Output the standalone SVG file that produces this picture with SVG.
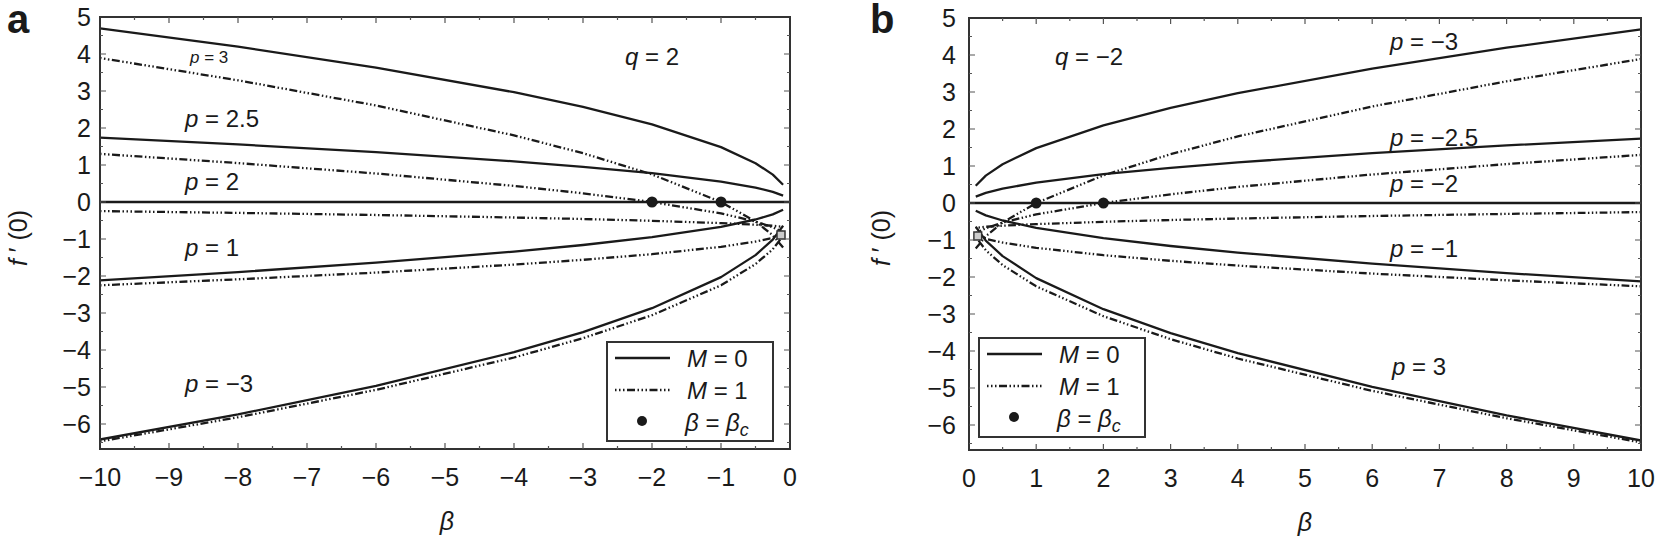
<svg xmlns="http://www.w3.org/2000/svg" xmlns:xlink="http://www.w3.org/1999/xlink" width="1657" height="542" viewBox="0 0 1657 542">
<style>
text{font-family:"Liberation Sans",Arial,sans-serif;fill:#1a1a1a}
.t{font-size:25px}
.it{font-style:italic}
.lab{font-size:24px}
.fr{fill:none;stroke:#333;stroke-width:2}
.tk{fill:none;stroke:#555;stroke-width:1.2}
.s{fill:none;stroke:#1a1a1a;stroke-width:2.3;stroke-linejoin:round}
.d{fill:none;stroke:#1a1a1a;stroke-width:2.3;stroke-dasharray:1.5 2.5 1.5 2.5 1.5 2.5 8 2.5}
</style>
<defs>
<g id="curves">
<polyline class="s" points="100,28.4 238,46.7 376,67.6 514,92.2 583,106.9 652,124.4 721,147.1 755.5,163.2 772.8,174.6 783.1,184.7"/>
<polyline class="s" points="100,137.7 238,144.4 376,152.2 514,161.3 583,166.8 652,173.2 721,181.7 755.5,187.6 772.8,191.8 783.1,195.6"/>
<line class="s" x1="100" y1="202" x2="790" y2="202"/>
<polyline class="s" points="100,280.4 238,272.1 376,262.7 514,251.6 583,245 652,237.1 721,226.8 755.5,219.5 772.8,214.4 783.1,209.8"/>
<polyline class="s" points="100,439.5 238,414.4 376,385.9 514,352.2 583,332.1 652,308.2 721,277.1 755.5,255.1 772.8,239.6 783.1,225.7"/>
<polyline class="d" points="100,58 238,80.3 376,105.5 514,135.4 583,153.2 652,174.4 721,202 755.5,221.5 772.8,235.3 783.1,247.6"/>
<polyline class="d" points="100,153.9 238,163.1 376,173.5 514,185.9 583,193.3 652,202 721,213.4 755.5,221.5 772.8,227.2 783.1,232.2"/>
<polyline class="d" points="100,211.1 238,212.9 376,215 514,217.5 583,219 652,220.8 721,223.1 755.5,224.7 772.8,225.8 783.1,226.8"/>
<polyline class="d" points="100,285.3 238,279.3 376,272.6 514,264.6 583,259.8 652,254.2 721,246.8 755.5,241.6 772.8,237.9 783.1,234.6"/>
<polyline class="d" points="100,441.4 238,417.3 376,389.9 514,357.5 583,338.2 652,315.2 721,285.3 755.5,264.1 772.8,249.2 783.1,235.9"/>
<rect x="777" y="231" width="8" height="8" fill="#ccc" stroke="#333" stroke-width="1.5"/>
<circle cx="652" cy="202" r="5.5" fill="#1a1a1a"/>
<circle cx="721" cy="202" r="5.5" fill="#1a1a1a"/>
</g>
<g id="legend">
<rect x="607" y="342" width="166" height="99" fill="#fff" stroke="#333" stroke-width="2"/>
<line class="s" x1="615" y1="358" x2="670" y2="358"/>
<text class="lab" x="687" y="367"><tspan class="it">M</tspan> = 0</text>
<line class="d" x1="615" y1="390" x2="670" y2="390"/>
<text class="lab" x="687" y="399"><tspan class="it">M</tspan> = 1</text>
<circle cx="642" cy="421" r="5" fill="#1a1a1a"/>
<text class="lab" x="685" y="431"><tspan class="it">β</tspan> = <tspan class="it">β</tspan><tspan class="it" font-size="18" dy="5">c</tspan></text>
</g>
</defs>

<g id="panel-a">
<text x="7" y="33" font-size="40" font-weight="bold">a</text>
<use xlink:href="#curves"/>
<rect class="fr" x="100" y="17" width="690" height="432"/>
<path class="tk" d="M169,449v-6M238,449v-6M307,449v-6M376,449v-6M445,449v-6M514,449v-6M583,449v-6M652,449v-6M721,449v-6M169,17v6M238,17v6M307,17v6M376,17v6M445,17v6M514,17v6M583,17v6M652,17v6M721,17v6M134.5,449v-3M203.5,449v-3M272.5,449v-3M341.5,449v-3M410.5,449v-3M479.5,449v-3M548.5,449v-3M617.5,449v-3M686.5,449v-3M755.5,449v-3M134.5,17v3M203.5,17v3M272.5,17v3M341.5,17v3M410.5,17v3M479.5,17v3M548.5,17v3M617.5,17v3M686.5,17v3M755.5,17v3M100,54h6M100,91h6M100,128h6M100,165h6M100,202h6M100,239h6M100,276h6M100,313h6M100,350h6M100,387h6M100,424h6M790,54h-6M790,91h-6M790,128h-6M790,165h-6M790,202h-6M790,239h-6M790,276h-6M790,313h-6M790,350h-6M790,387h-6M790,424h-6M100,35.5h3M100,72.5h3M100,109.5h3M100,146.5h3M100,183.5h3M100,220.5h3M100,257.5h3M100,294.5h3M100,331.5h3M100,368.5h3M100,405.5h3M100,442.5h3M790,35.5h-3M790,72.5h-3M790,109.5h-3M790,146.5h-3M790,183.5h-3M790,220.5h-3M790,257.5h-3M790,294.5h-3M790,331.5h-3M790,368.5h-3M790,405.5h-3M790,442.5h-3"/>
<g class="t" text-anchor="end">
<text x="91" y="26">5</text><text x="91" y="63">4</text><text x="91" y="100">3</text><text x="91" y="137">2</text><text x="91" y="174">1</text><text x="91" y="211">0</text><text x="91" y="248">−1</text><text x="91" y="285">−2</text><text x="91" y="322">−3</text><text x="91" y="359">−4</text><text x="91" y="396">−5</text><text x="91" y="433">−6</text>
</g>
<g class="t" text-anchor="middle">
<text x="100" y="486">−10</text><text x="169" y="486">−9</text><text x="238" y="486">−8</text><text x="307" y="486">−7</text><text x="376" y="486">−6</text><text x="445" y="486">−5</text><text x="514" y="486">−4</text><text x="583" y="486">−3</text><text x="652" y="486">−2</text><text x="721" y="486">−1</text><text x="790" y="486">0</text>
</g>
<text class="t it" x="447" y="530" text-anchor="middle">β</text>
<text class="t" transform="translate(27,238) rotate(-90)" text-anchor="middle"><tspan class="it">f</tspan> ′ (0)</text>
<text class="it" font-size="17" x="190" y="63">p<tspan font-style="normal"> = 3</tspan></text>
<text class="lab" x="185" y="127"><tspan class="it">p</tspan> = 2.5</text>
<text class="lab" x="185" y="190"><tspan class="it">p</tspan> = 2</text>
<text class="lab" x="185" y="256"><tspan class="it">p</tspan> = 1</text>
<text class="lab" x="185" y="392"><tspan class="it">p</tspan> = −3</text>
<text class="lab" x="625" y="65"><tspan class="it">q</tspan> = 2</text>
<use xlink:href="#legend"/>
</g>

<g id="panel-b">
<text x="870" y="33" font-size="40" font-weight="bold">b</text>
<use xlink:href="#curves" transform="matrix(-0.9739 0 0 1 1738.4 1)"/>
<rect class="fr" x="969" y="18" width="672" height="432"/>
<path class="tk" d="M1036.2,450v-6M1103.4,450v-6M1170.6,450v-6M1237.8,450v-6M1305,450v-6M1372.2,450v-6M1439.4,450v-6M1506.6,450v-6M1573.8,450v-6M1036.2,18v6M1103.4,18v6M1170.6,18v6M1237.8,18v6M1305,18v6M1372.2,18v6M1439.4,18v6M1506.6,18v6M1573.8,18v6M1002.6,450v-3M1069.8,450v-3M1137,450v-3M1204.2,450v-3M1271.4,450v-3M1338.6,450v-3M1405.8,450v-3M1473,450v-3M1540.2,450v-3M1607.4,450v-3M1002.6,18v3M1069.8,18v3M1137,18v3M1204.2,18v3M1271.4,18v3M1338.6,18v3M1405.8,18v3M1473,18v3M1540.2,18v3M1607.4,18v3M969,55h6M969,92h6M969,129h6M969,166h6M969,203h6M969,240h6M969,277h6M969,314h6M969,351h6M969,388h6M969,425h6M1641,55h-6M1641,92h-6M1641,129h-6M1641,166h-6M1641,203h-6M1641,240h-6M1641,277h-6M1641,314h-6M1641,351h-6M1641,388h-6M1641,425h-6M969,36.5h3M969,73.5h3M969,110.5h3M969,147.5h3M969,184.5h3M969,221.5h3M969,258.5h3M969,295.5h3M969,332.5h3M969,369.5h3M969,406.5h3M969,443.5h3M1641,36.5h-3M1641,73.5h-3M1641,110.5h-3M1641,147.5h-3M1641,184.5h-3M1641,221.5h-3M1641,258.5h-3M1641,295.5h-3M1641,332.5h-3M1641,369.5h-3M1641,406.5h-3M1641,443.5h-3"/>
<g class="t" text-anchor="end">
<text x="956" y="27">5</text><text x="956" y="64">4</text><text x="956" y="101">3</text><text x="956" y="138">2</text><text x="956" y="175">1</text><text x="956" y="212">0</text><text x="956" y="249">−1</text><text x="956" y="286">−2</text><text x="956" y="323">−3</text><text x="956" y="360">−4</text><text x="956" y="397">−5</text><text x="956" y="434">−6</text>
</g>
<g class="t" text-anchor="middle">
<text x="969" y="487">0</text><text x="1036.2" y="487">1</text><text x="1103.4" y="487">2</text><text x="1170.6" y="487">3</text><text x="1237.8" y="487">4</text><text x="1305" y="487">5</text><text x="1372.2" y="487">6</text><text x="1439.4" y="487">7</text><text x="1506.6" y="487">8</text><text x="1573.8" y="487">9</text><text x="1641" y="487">10</text>
</g>
<text class="t it" x="1305" y="531" text-anchor="middle">β</text>
<text class="t" transform="translate(890,238) rotate(-90)" text-anchor="middle"><tspan class="it">f</tspan> ′ (0)</text>
<text class="lab" x="1055" y="65"><tspan class="it">q</tspan> = −2</text>
<text class="lab" x="1390" y="50"><tspan class="it">p</tspan> = −3</text>
<text class="lab" x="1390" y="146"><tspan class="it">p</tspan> = −2.5</text>
<text class="lab" x="1390" y="192"><tspan class="it">p</tspan> = −2</text>
<text class="lab" x="1390" y="257"><tspan class="it">p</tspan> = −1</text>
<text class="lab" x="1392" y="375"><tspan class="it">p</tspan> = 3</text>
<use xlink:href="#legend" transform="translate(372,-4)"/>
</g>
</svg>
